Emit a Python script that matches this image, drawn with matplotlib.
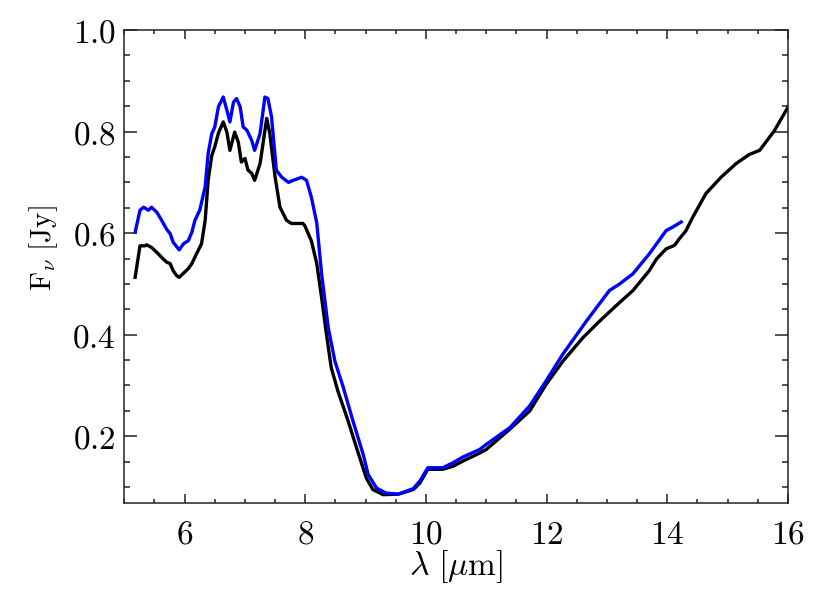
import matplotlib
matplotlib.use("Agg")
import matplotlib.pyplot as plt
from matplotlib.ticker import MultipleLocator, FuncFormatter

plt.rcParams['mathtext.fontset'] = 'cm'
plt.rcParams['font.family'] = ['DejaVu Serif']

# Black spectrum
wave_black = [5.18, 5.26, 5.34, 5.37, 5.45, 5.54, 5.62, 5.70, 5.76, 5.81, 5.87, 5.91,
              5.98, 6.06, 6.12, 6.20, 6.28, 6.34, 6.39, 6.45, 6.50, 6.56, 6.64, 6.70,
              6.75, 6.83, 6.89, 6.94, 7.00, 7.05, 7.11, 7.16, 7.25, 7.30, 7.36, 7.41,
              7.50, 7.58, 7.69, 7.77, 7.96, 7.99, 8.10, 8.19, 8.27, 8.35, 8.43, 8.54,
              8.71, 8.85, 9.01, 9.12, 9.29, 9.54, 9.79, 9.90, 10.03, 10.12, 10.28, 10.45,
              10.61, 10.89, 11.00, 11.39, 11.72, 11.99, 12.27, 12.60, 12.88, 13.15, 13.43,
              13.70, 13.82, 13.98, 14.12, 14.20, 14.31, 14.42, 14.64, 14.89, 15.14, 15.36,
              15.53, 15.77, 16.00]
flux_black = [0.513, 0.575, 0.575, 0.577, 0.572, 0.562, 0.552, 0.543, 0.540, 0.526, 0.516, 0.513,
              0.521, 0.530, 0.540, 0.560, 0.579, 0.625, 0.704, 0.753, 0.770, 0.797, 0.819, 0.799,
              0.763, 0.799, 0.779, 0.740, 0.747, 0.724, 0.718, 0.704, 0.737, 0.777, 0.826, 0.797,
              0.710, 0.651, 0.625, 0.619, 0.619, 0.615, 0.585, 0.540, 0.473, 0.401, 0.335, 0.289,
              0.230, 0.177, 0.118, 0.095, 0.085, 0.086, 0.095, 0.108, 0.135, 0.135, 0.135, 0.141,
              0.151, 0.167, 0.174, 0.214, 0.250, 0.302, 0.348, 0.394, 0.427, 0.457, 0.487,
              0.526, 0.549, 0.569, 0.576, 0.589, 0.605, 0.631, 0.678, 0.710, 0.737, 0.755,
              0.763, 0.801, 0.848]

# Blue spectrum
wave_blue = [5.18, 5.26, 5.32, 5.40, 5.45, 5.54, 5.62, 5.70, 5.76, 5.81, 5.91, 5.98,
             6.06, 6.12, 6.17, 6.25, 6.34, 6.39, 6.45, 6.50, 6.56, 6.64, 6.70, 6.75,
             6.81, 6.86, 6.92, 6.97, 7.03, 7.11, 7.16, 7.25, 7.33, 7.38, 7.44, 7.52,
             7.61, 7.72, 7.80, 7.94, 8.02, 8.10, 8.19, 8.27, 8.38, 8.49, 8.63, 8.79,
             8.96, 9.04, 9.18, 9.34, 9.54, 9.79, 9.90, 10.03, 10.14, 10.28, 10.45, 10.61,
             10.89, 11.00, 11.39, 11.72, 11.99, 12.27, 12.66, 13.04, 13.21, 13.43, 13.70,
             13.98, 14.09, 14.23]
flux_blue = [0.602, 0.645, 0.651, 0.645, 0.651, 0.641, 0.625, 0.608, 0.599, 0.582, 0.567, 0.579,
             0.585, 0.602, 0.625, 0.645, 0.691, 0.757, 0.796, 0.809, 0.849, 0.868, 0.842, 0.819,
             0.858, 0.865, 0.849, 0.809, 0.803, 0.783, 0.763, 0.796, 0.868, 0.865, 0.829, 0.724,
             0.710, 0.700, 0.704, 0.710, 0.704, 0.671, 0.620, 0.520, 0.414, 0.348, 0.296, 0.230,
             0.164, 0.125, 0.098, 0.088, 0.086, 0.097, 0.112, 0.138, 0.138, 0.138, 0.148, 0.159,
             0.174, 0.184, 0.217, 0.260, 0.309, 0.362, 0.427, 0.487, 0.500, 0.520, 0.559,
             0.605, 0.612, 0.622]

x_ticks = [6, 8, 10, 12, 14, 16]
y_ticks = [0.2, 0.4, 0.6, 0.8, 1.0]

fig = plt.figure(figsize=(8.30, 5.93), dpi=100)
ax = fig.add_axes([124.3/830, 1 - 503.3/593, (788 - 124.3)/830, (503.3 - 30)/593])

ax.plot(wave_black, flux_black, color='black', lw=2.4, zorder=2)
ax.plot(wave_blue, flux_blue, color='#0000ff', lw=2.4, zorder=3)

ax.set_xlim(5.0, 16.0)
ax.set_ylim(0.068, 1.0)
ax.set_xticks(x_ticks)
ax.set_yticks(y_ticks)
ax.xaxis.set_minor_locator(MultipleLocator(0.5))
ax.yaxis.set_minor_locator(MultipleLocator(0.05))
ax.xaxis.set_major_formatter(FuncFormatter(lambda v, p: r'$%d$' % round(v)))
ax.yaxis.set_major_formatter(FuncFormatter(lambda v, p: r'$%.1f$' % v))

for s in ax.spines.values():
    s.set_linewidth(1.1)
    s.set_color('#222222')

ax.tick_params(axis='both', which='both', direction='in', top=True, right=True,
               color='#222222', width=1.1, labelsize=24)
ax.tick_params(axis='x', which='major', length=6.7, pad=11)
ax.tick_params(axis='x', which='minor', length=3.1)
ax.tick_params(axis='y', which='major', length=9.1, pad=6)
ax.tick_params(axis='y', which='minor', length=4.3)

ax.set_xlabel(r'$\lambda\ [\mu\mathrm{m}]$', fontsize=24)
ax.set_ylabel(r'$\mathrm{F}_\nu\ [\mathrm{Jy}]$', fontsize=21)
ax.xaxis.set_label_coords(0.5, -0.095)
ax.yaxis.set_label_coords(-0.097, 0.54)

fig.savefig('out.png', dpi=100)
